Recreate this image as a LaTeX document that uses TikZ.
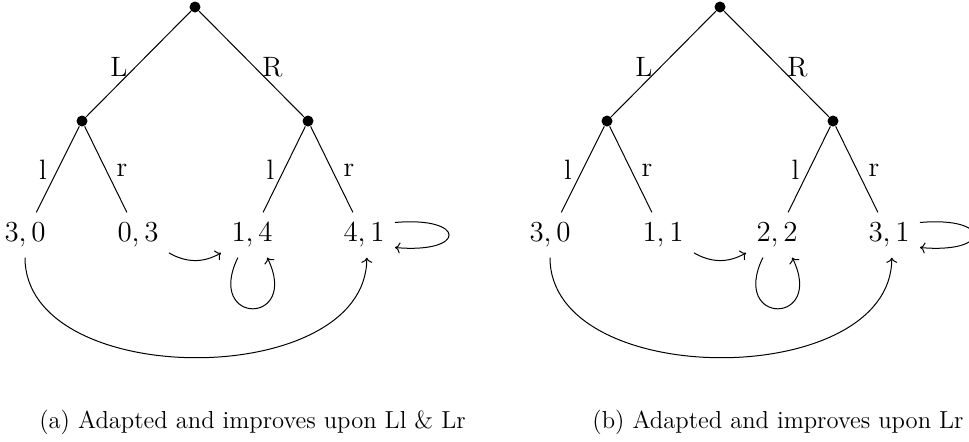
\documentclass[tikz,border=0pt]{standalone}
\usetikzlibrary{arrows.meta}
\begin{document}
\begin{tikzpicture}[x=0.5pt,y=-0.5pt,line width=0.5pt,
  dot/.style={circle,fill,inner sep=0pt,minimum size=5.5pt},
  leaf/.style={inner sep=5pt,text height=9.34pt,text depth=2.8pt,font=\fontsize{14.5}{17}\selectfont},
  lab/.style={inner sep=0pt,font=\fontsize{14}{17}\selectfont},
  captext/.style={inner sep=0pt,anchor=base,font=\fontsize{12.3}{15}\selectfont},
  arr/.style={-{To[length=2.6pt,width=5.5pt]}}]
\useasboundingbox (0,0) rectangle (969,441);
% ---------- panel (a)
\node[dot] (ar) at (195,7) {};
\node[dot] (aL) at (82,121) {};
\node[dot] (aR) at (308,121) {};
\node[leaf] (a1) at (25,235) {3,\kern.16em 0};
\node[leaf] (a2) at (138,235) {0,\kern.16em 3};
\node[leaf] (a3) at (252,235) {1,\kern.16em 4};
\node[leaf] (a4) at (364,235) {4,\kern.16em 1};
\draw (ar) -- (aL);
\draw (ar) -- (aR);
\draw (aL) -- (a1);
\draw (aL) -- (a2);
\draw (aR) -- (a3);
\draw (aR) -- (a4);
\node[lab] (aLl) at (119,67) {L};
\node[lab] (aRl) at (272.5,67) {R};
\node[lab] (all) at (43,170) {l};
\node[lab] (arl) at (122,170) {r};
\node[lab] (all2) at (270.5,170) {l};
\node[lab] (arl2) at (349,170) {r};
\draw[arr] (a2.-30) to[bend right=30] (a3.210);
\draw[arr] (a3.238) to[out=-116,in=-64,looseness=6.6] (a3.-56);
\draw[arr] (a1.south) to[out=-90,in=-90,looseness=1] (a4.-83);
\draw[arr] (a4.22) to[out=5,in=-5,looseness=7.4] (a4.-22);
\node[captext] (capa) at (252.5,428) {(a) Adapted and improves upon Ll \& Lr};
% ---------- panel (b)
\node[dot] (br) at (720,7) {};
\node[dot] (bL) at (607,121) {};
\node[dot] (bR) at (833,121) {};
\node[leaf] (b1) at (550,235) {3,\kern.16em 0};
\node[leaf] (b2) at (663,235) {1,\kern.16em 1};
\node[leaf] (b3) at (777,235) {2,\kern.16em 2};
\node[leaf] (b4) at (889,235) {3,\kern.16em 1};
\draw (br) -- (bL);
\draw (br) -- (bR);
\draw (bL) -- (b1);
\draw (bL) -- (b2);
\draw (bR) -- (b3);
\draw (bR) -- (b4);
\node[lab] (bLl) at (644,67) {L};
\node[lab] (bRl) at (797.5,67) {R};
\node[lab] (bll) at (568,170) {l};
\node[lab] (brl) at (647,170) {r};
\node[lab] (bll2) at (795.5,170) {l};
\node[lab] (brl2) at (874,170) {r};
\draw[arr] (b2.-30) to[bend right=30] (b3.210);
\draw[arr] (b3.238) to[out=-116,in=-64,looseness=6.6] (b3.-56);
\draw[arr] (b1.south) to[out=-90,in=-90,looseness=1] (b4.-83);
\draw[arr] (b4.22) to[out=5,in=-5,looseness=7.4] (b4.-22);
\node[captext] (capb) at (778,428) {(b) Adapted and improves upon Lr};
\end{tikzpicture}
\end{document}
